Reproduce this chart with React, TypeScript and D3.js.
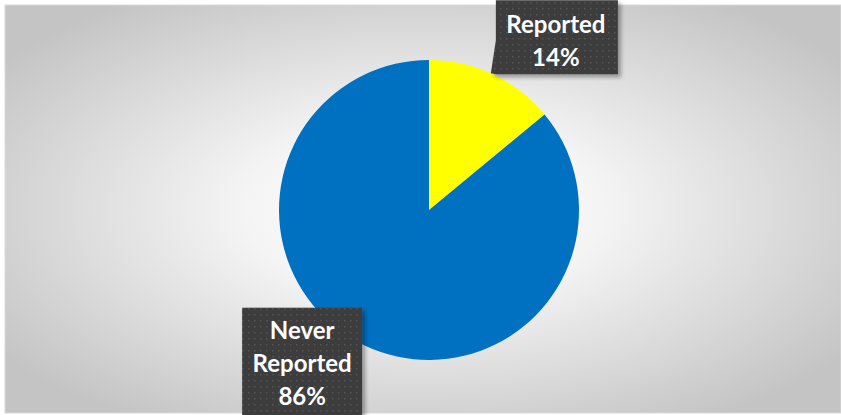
import React from "react";
import * as d3 from "d3";

const categories = ["Reported", "Never Reported"];
const values = [14, 86];
const colors = ["#FFFF00", "#0070C0"];

const W = 841;
const H = 415;

export default function App() {
  const cx = 429, cy = 210, r = 150;
  const pie = d3.pie<number>().sort(null).value((d) => d)(values);
  const arc = d3.arc<d3.PieArcDatum<number>>().innerRadius(0).outerRadius(r);
  const total = d3.sum(values);

  const anchors = pie.map((p) => {
    const mid = (p.startAngle + p.endAngle) / 2;
    return { x: cx + Math.sin(mid) * r, y: cy - Math.cos(mid) * r };
  });

  const lines0 = [categories[0], `${Math.round((values[0] / total) * 100)}%`];
  const lines1 = ["Never", "Reported", `${Math.round((values[1] / total) * 100)}%`];

  const b0 = { x: anchors[0].x + 3, y: anchors[0].y - 74, w: 122, h: 74 };
  const b1 = { x: anchors[1].x - 123, y: anchors[1].y - 38, w: 120, h: 110 };

  return (
    <svg width={W} height={H} style={{ position: "absolute", left: 0, top: 0, display: "block" }}
      fontFamily="Lato, 'Open Sans', sans-serif">
      <defs>
        <radialGradient id="bg" cx="50%" cy="50%" r="62%" gradientUnits="objectBoundingBox">
          <stop offset="0%" stopColor="#ffffff" />
          <stop offset="35%" stopColor="#f4f4f4" />
          <stop offset="100%" stopColor="#c4c4c4" />
        </radialGradient>
        <pattern id="dots" width="6" height="6" patternUnits="userSpaceOnUse">
          <rect width="6" height="6" fill="#3d3d3d" />
          <rect x="2" y="2" width="1.5" height="1.5" fill="#555" />
        </pattern>
        <filter id="sh" x="-10%" y="-10%" width="130%" height="130%">
          <feDropShadow dx="3" dy="3" stdDeviation="2" floodColor="#000" floodOpacity="0.35" />
        </filter>
      </defs>
      <rect x={0} y={0} width={W} height={H} fill="#ffffff" />
      <rect x={5} y={5} width={W - 5} height={H - 7} fill="url(#bg)" stroke="#d9d9d9" strokeWidth={1} />
      <g transform={`translate(${cx},${cy})`}>
        {pie.map((p, i) => (
          <path key={i} d={arc(p) || ""} fill={colors[i]} />
        ))}
      </g>
      <g filter="url(#sh)">
        <path
          d={`M${b0.x},${b0.y} H${b0.x + b0.w} V${b0.y + b0.h} H${b0.x} L${b0.x - 5},${b0.y + b0.h - 1} L${b0.x},${b0.y + 40} Z`}
          fill="url(#dots)"
        />
      </g>
      {lines0.map((t, k) => (
        <text key={k} x={b0.x + b0.w / 2 - 1} y={b0.y + 33 + k * 33} textAnchor="middle" fill="#ffffff"
          fontSize={24} fontWeight="bold">{t}</text>
      ))}
      <g filter="url(#sh)">
        <rect x={b1.x} y={b1.y} width={b1.w} height={b1.h} fill="url(#dots)" />
      </g>
      {lines1.map((t, k) => (
        <text key={k} x={b1.x + b1.w / 2} y={b1.y + 31 + k * 33} textAnchor="middle" fill="#ffffff"
          fontSize={24} fontWeight="bold">{t}</text>
      ))}
    </svg>
  );
}
